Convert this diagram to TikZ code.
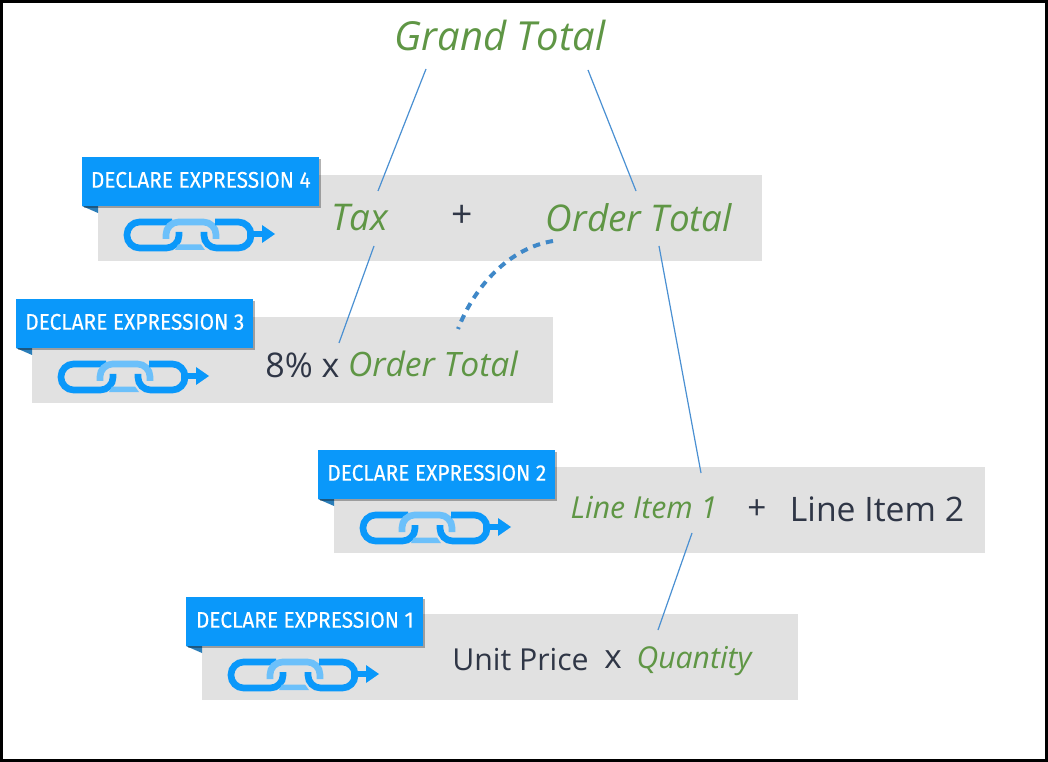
\documentclass[tikz,border=0pt]{standalone}
\usepackage{fontspec}
\setmainfont{Open Sans}
\newfontfamily\bannerfont[FakeStretch=0.92,FakeBold=0.25]{Fira Sans}
\usetikzlibrary{shadows}
\definecolor{peBlue}  {HTML}{0A98FA}
\definecolor{peFold}  {HTML}{2A7DB8}
\definecolor{peLight} {HTML}{6CC0FA}
\definecolor{peGrey}  {HTML}{E1E1E1}
\definecolor{peGreen} {HTML}{5F9645}
\definecolor{peInk}   {HTML}{2F3646}
\definecolor{peLine}  {HTML}{4A90D2}
\definecolor{peDash}  {HTML}{3F88C8}
\tikzset{
  greybox/.style={fill=peGrey,anchor=north west,inner sep=0pt,minimum height=64.5pt},
  banner/.style={fill=peBlue,text=white,anchor=north west,inner sep=0pt,
    minimum width=177.75pt,minimum height=36.75pt,text depth=3pt,
    font=\bannerfont\fontsize{17}{18}\selectfont,
    drop shadow={shadow xshift=1.5pt,shadow yshift=-1.5pt,opacity=.3,fill=black}},
  fold/.style={fill=peFold},
  term/.style={text=peGreen,font=\itshape\fontsize{#1}{30}\selectfont,inner sep=0pt},
  plain/.style={text=peInk,font=\fontsize{#1}{30}\selectfont,inner sep=0pt},
  refline/.style={draw=peLine,line width=0.9pt},
  depline/.style={draw=peDash,line width=3pt,dash pattern=on 5.5pt off 4.5pt},
  chain/.pic={
    \draw[peBlue,line width=5pt,rounded corners=9.5pt]
      (47,-13) -- (2,-13) -- (2,13) -- (54,13) -- (54,-3);
    \draw[peLight,line width=5pt,rounded corners=9.5pt]
      (41,4) -- (41,-13) -- (91,-13) -- (91,4);
    \fill[peLight] (50,15) -- (80,15) -- (76,9.5) -- (53,9.5) -- cycle;
    \draw[peBlue,line width=5pt,rounded corners=9.5pt]
      (79,-3) -- (79,13) -- (126,13) -- (126,-13) -- (90,-13);
    \draw[peBlue,line width=5pt] (122,-1) -- (140,-1);
    \fill[peBlue] (137,-10) -- (150,-1) -- (137,8) -- cycle;
  }
}
\begin{document}
\begin{tikzpicture}[x=0.75pt,y=-0.75pt]
  \useasboundingbox (0,0) rectangle (1048,762);
  \fill[white] (0,0) rectangle (1048,762);

  % grey rows
  \node[greybox,minimum width=498pt] (boxFour) at (98,175) {};
  \node[greybox,minimum width=390.75pt] (boxThree) at (32,317) {};
  \node[greybox,minimum width=488.25pt] (boxTwo) at (334,467) {};
  \node[greybox,minimum width=447pt] (boxOne) at (202,614) {};

  % banners
  \fill[fold] (82,206) -- (98,206) -- (98,213) -- cycle;
  \fill[fold] (16,348) -- (32,348) -- (32,355) -- cycle;
  \fill[fold] (318,499) -- (334,499) -- (334,506) -- cycle;
  \fill[fold] (186,646) -- (202,646) -- (202,653) -- cycle;
  \node[banner] (bannerFour) at (82,157) {DECLARE EXPRESSION 4};
  \node[banner] (bannerThree) at (16,299) {DECLARE EXPRESSION 3};
  \node[banner] (bannerTwo) at (318,450) {DECLARE EXPRESSION 2};
  \node[banner] (bannerOne) at (186,597) {DECLARE EXPRESSION 1};

  % chain icons
  \pic at (125,235) {chain};
  \pic at (59,377) {chain};
  \pic at (361,528) {chain};
  \pic at (229,675) {chain};

  % expressions
  \node[term=30] (grandTotal) at (500,36) {Grand Total};
  \node[term=27.6] (taxTerm) at (360,218) {Tax};
  \node[plain=28] (plusFour) at (462.5,216) {+};
  \node[term=27.6] (orderTotal) at (639,218) {Order Total};
  \node[plain=25.5] (eightPct) at (302.5,365) {8\% x};
  \node[term=25.2] (orderTerm) at (433,364) {Order Total};
  \node[term=22.7] (lineOne) at (644,508) {Line Item 1};
  \node[plain=25] (plusTwo) at (757,510) {+};
  \node[plain=25.3] (lineTwo) at (877,509) {Line Item 2};
  \node[plain=22.7] (unitPrice) at (520.5,660) {Unit Price};
  \node[plain=25] (timesOne) at (613,660) {x};
  \node[term=22.6] (quantity) at (694,661) {Quantity};

  % line ends
  \coordinate (gtLeft) at (426,69);
  \coordinate (taxTop) at (378,191);
  \coordinate (taxBot) at (374,246);
  \coordinate (pctTop) at (339,343);
  \coordinate (gtRight) at (588,70);
  \coordinate (otTop) at (636,191);
  \coordinate (otBot) at (659,246);
  \coordinate (liTop) at (701,473);
  \coordinate (liBot) at (692,533);
  \coordinate (qtyTop) at (658,630);
  \coordinate (depFrom) at (553,241);
  \coordinate (depTo) at (458,329);

  \draw[refline] (gtLeft) -- (taxTop);
  \draw[refline] (taxBot) -- (pctTop);
  \draw[refline] (gtRight) -- (otTop);
  \draw[refline] (otBot) -- (liTop);
  \draw[refline] (liBot) -- (qtyTop);
  \draw[depline] (depFrom) .. controls (510,248) and (475,285) .. (depTo);

  % frame
  \draw[black,line width=2.25pt] (1.5,1.5) rectangle (1046.5,760.5);
\end{tikzpicture}
\end{document}
